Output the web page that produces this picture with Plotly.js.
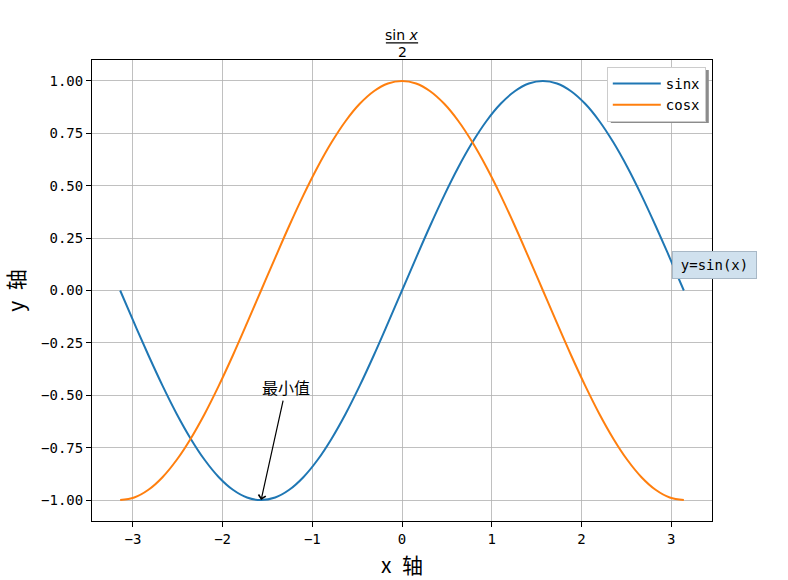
<!DOCTYPE html>
<html>
<head>
<meta charset="utf-8">
<script src="https://cdn.plot.ly/plotly-3.0.1.min.js"></script>
<style>html,body{margin:0;padding:0;background:#fff;}#chart{width:788px;height:580px;}</style>
</head>
<body>
<div id="chart"></div>
<script>
// x positions (radians), -pi .. pi
const xValues = [-3.142,-2.985,-2.827,-2.670,-2.513,-2.356,-2.199,-2.042,-1.885,-1.728,-1.571,
  -1.414,-1.257,-1.100,-0.942,-0.785,-0.628,-0.471,-0.314,-0.157,0.000,
  0.157,0.314,0.471,0.628,0.785,0.942,1.100,1.257,1.414,1.571,
  1.728,1.885,2.042,2.199,2.356,2.513,2.670,2.827,2.985,3.142];
const sinValues = [0.000,-0.156,-0.309,-0.454,-0.588,-0.707,-0.809,-0.891,-0.951,-0.988,-1.000,
  -0.988,-0.951,-0.891,-0.809,-0.707,-0.588,-0.454,-0.309,-0.156,0.000,
  0.156,0.309,0.454,0.588,0.707,0.809,0.891,0.951,0.988,1.000,
  0.988,0.951,0.891,0.809,0.707,0.588,0.454,0.309,0.156,0.000];
const cosValues = [-1.000,-0.988,-0.951,-0.891,-0.809,-0.707,-0.588,-0.454,-0.309,-0.156,0.000,
  0.156,0.309,0.454,0.588,0.707,0.809,0.891,0.951,0.988,1.000,
  0.988,0.951,0.891,0.809,0.707,0.588,0.454,0.309,0.156,0.000,
  -0.156,-0.309,-0.454,-0.588,-0.707,-0.809,-0.891,-0.951,-0.988,-1.000];
const seriesNames = ['sinx', 'cosx'];
const xTicks = [-3,-2,-1,0,1,2,3];
const yTicks = [-1.00,-0.75,-0.50,-0.25,0.00,0.25,0.50,0.75,1.00];
const minPoint = {x: -1.571, y: -1.0, label: '最小值'};
const boxText = {x: 3.0, y: 0.1, label: 'y=sin(x)'};

const cjk = '"Noto Sans CJK SC", "DejaVu Sans", sans-serif';
const mono = '"DejaVu Sans Mono", monospace';

const traces = [
  {x: xValues, y: sinValues, name: seriesNames[0], mode: 'lines', line: {color: '#1f77b4', width: 2, shape: 'spline'}},
  {x: xValues, y: cosValues, name: seriesNames[1], mode: 'lines', line: {color: '#ff7f0e', width: 2, shape: 'spline'}}
];

const axisCommon = {
  showline: true, linecolor: '#000', linewidth: 1, mirror: true,
  ticks: 'outside', ticklen: 5, tickwidth: 1, tickcolor: '#000',
  showgrid: true, gridcolor: '#b0b0b0', gridwidth: 0.8, zeroline: false,
  tickfont: {family: mono, size: 14, color: '#000'}
};

const layout = {
  width: 788, height: 580,
  margin: {l: 92, r: 76, t: 60, b: 59},
  paper_bgcolor: '#fff', plot_bgcolor: '#fff',
  showlegend: true,
  xaxis: Object.assign({}, axisCommon, {
    range: [-3.456, 3.456], tickvals: xTicks, ticktext: xTicks.map(v => v < 0 ? '\u2212' + Math.abs(v) : String(v)),
    title: {text: 'x\u2002轴', font: {family: cjk, size: 21, color: '#000'}, standoff: 12}
  }),
  yaxis: Object.assign({}, axisCommon, {
    range: [-1.1, 1.1], tickvals: yTicks, ticktext: yTicks.map(v => (v < 0 ? '\u2212' : '') + Math.abs(v).toFixed(2)),
    title: {text: 'y\u2002轴', font: {family: cjk, size: 21, color: '#000'}, standoff: 18}
  }),
  legend: {
    x: 0.99, y: 0.985, xanchor: 'right', yanchor: 'top',
    bgcolor: '#fff', bordercolor: '#cccccc', borderwidth: 1,
    itemwidth: 48, tracegroupgap: 0,
    font: {family: mono, size: 14, color: '#000'}
  },
  shapes: [
    // legend shadow
    {type: 'rect', xref: 'paper', yref: 'paper', xsizemode: 'pixel', ysizemode: 'pixel',
     xanchor: 0.99, yanchor: 0.985, x0: -95, x1: 3, y0: -3, y1: -56,
     fillcolor: '#8c8c8c', line: {width: 0}, layer: 'above'},
    // title fraction bar
    {type: 'line', xref: 'paper', yref: 'paper', x0: 0.474, x1: 0.526, y0: 1.037, y1: 1.037,
     line: {color: '#000', width: 1.3}}
  ],
  annotations: [
    {xref: 'paper', yref: 'paper', x: 0.5, y: 1.037, text: 'sin <i>x</i>', showarrow: false,
     xanchor: 'center', yanchor: 'bottom', yshift: -2, font: {family: 'DejaVu Sans', size: 14, color: '#000'}},
    {xref: 'paper', yref: 'paper', x: 0.5, y: 1.037, text: '2', showarrow: false,
     xanchor: 'center', yanchor: 'top', yshift: 1, font: {family: 'DejaVu Sans', size: 14, color: '#000'}},
    {x: minPoint.x, y: minPoint.y, text: minPoint.label, showarrow: true,
     arrowhead: 4, arrowsize: 1.2, arrowwidth: 1.2, arrowcolor: '#000',
     ax: 25, ay: -113, font: {family: cjk, size: 16, color: '#000'}},
    {x: boxText.x, y: boxText.y, text: boxText.label, showarrow: false,
     xanchor: 'left', yanchor: 'middle', xshift: 1, yshift: 5, width: 75, height: 18,
     bgcolor: '#d0e1ee', bordercolor: '#a8b8c6', borderwidth: 1, borderpad: 4,
     font: {family: mono, size: 14, color: '#000'}}
  ]
};

Plotly.newPlot('chart', traces, layout, {displayModeBar: false, staticPlot: true});
</script>
</body>
</html>
